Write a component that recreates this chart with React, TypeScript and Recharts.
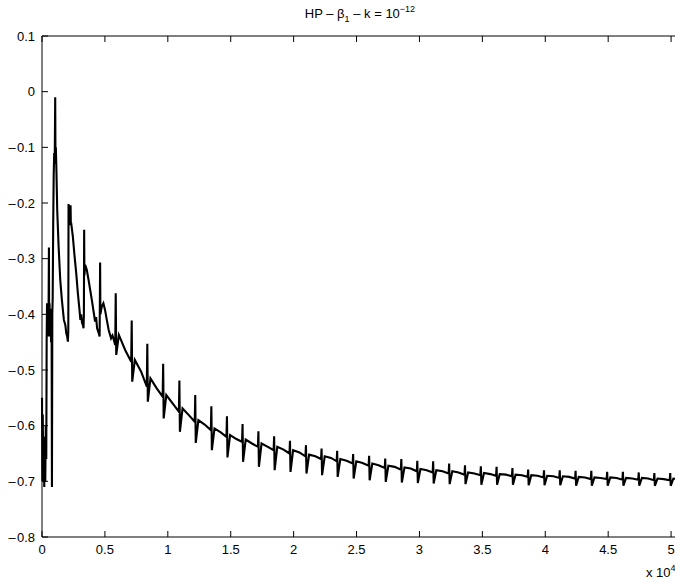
import React from 'react';
import { LineChart, Line, XAxis, YAxis } from 'recharts';

// first, irregular part of the trace (x in units of 10^4)
const earlyX = [
  0.0, 0.003, 0.006, 0.01, 0.014, 0.018, 0.022, 0.026, 0.03, 0.034, 0.037, 0.04, 0.043, 0.047,
  0.051, 0.055, 0.057, 0.06, 0.064, 0.068, 0.072, 0.076, 0.079, 0.082, 0.085, 0.089, 0.093,
  0.097, 0.101, 0.105, 0.107, 0.11, 0.114, 0.121, 0.132, 0.145, 0.158, 0.174, 0.186, 0.193,
  0.2, 0.206, 0.209, 0.211, 0.214, 0.219, 0.225, 0.227, 0.229, 0.232, 0.245, 0.259, 0.272,
  0.285, 0.298, 0.305, 0.311, 0.318, 0.325, 0.33, 0.333, 0.335, 0.337, 0.343, 0.356, 0.37,
  0.383, 0.396, 0.412, 0.422, 0.43, 0.438, 0.451, 0.458, 0.462, 0.464, 0.475, 0.488, 0.501,
  0.515, 0.53, 0.549, 0.56, 0.57, 0.578,
];
const earlyY = [
  -0.55, -0.7, -0.58, -0.7, -0.62, -0.71, -0.64, -0.7, -0.6, -0.66, -0.45, -0.38, -0.44, -0.4,
  -0.44, -0.28, -0.42, -0.38, -0.44, -0.4, -0.45, -0.39, -0.71, -0.4, -0.37, -0.24, -0.15,
  -0.11, -0.13, -0.01, -0.12, -0.1, -0.135, -0.213, -0.278, -0.338, -0.374, -0.41, -0.42, -0.434,
  -0.44, -0.449, -0.43, -0.202, -0.23, -0.225, -0.24, -0.204, -0.235, -0.236, -0.26, -0.296, -0.326,
  -0.362, -0.392, -0.41, -0.4, -0.415, -0.419, -0.425, -0.4, -0.248, -0.33, -0.311, -0.32, -0.338,
  -0.356, -0.374, -0.398, -0.413, -0.405, -0.425, -0.434, -0.44, -0.307, -0.4, -0.386, -0.38, -0.392,
  -0.41, -0.428, -0.443, -0.438, -0.445, -0.452,
];

// periodic spikes after that
const spikeX = [
  0.586, 0.713, 0.837, 0.963, 1.092, 1.218, 1.346, 1.47, 1.594, 1.72, 1.845, 1.971, 2.098, 2.222,
  2.346, 2.473, 2.6, 2.728, 2.856, 2.983, 3.109, 3.236, 3.362, 3.488, 3.613, 3.739, 3.864, 3.99,
  4.115, 4.241, 4.366, 4.492, 4.617, 4.743, 4.867, 4.993,
];
const preY = [
  -0.455, -0.485, -0.53, -0.548, -0.575, -0.593, -0.608, -0.62, -0.629, -0.638, -0.644, -0.65,
  -0.655, -0.66, -0.664, -0.668, -0.672, -0.676, -0.679, -0.682, -0.684, -0.686, -0.688, -0.689,
  -0.69, -0.691, -0.692, -0.693, -0.694, -0.695, -0.696, -0.696, -0.697, -0.697, -0.698, -0.698,
];
const topY = [
  -0.362, -0.411, -0.453, -0.489, -0.519, -0.545, -0.565, -0.583, -0.597, -0.61, -0.619, -0.627,
  -0.635, -0.641, -0.645, -0.651, -0.654, -0.659, -0.66, -0.663, -0.664, -0.668, -0.671, -0.673,
  -0.674, -0.676, -0.679, -0.68, -0.68, -0.681, -0.681, -0.683, -0.683, -0.684, -0.685, -0.685,
];
const dipY = [
  -0.473, -0.521, -0.557, -0.587, -0.611, -0.631, -0.644, -0.657, -0.665, -0.674, -0.68, -0.683,
  -0.686, -0.689, -0.692, -0.695, -0.698, -0.701, -0.702, -0.703, -0.704, -0.705, -0.705, -0.706,
  -0.706, -0.706, -0.707, -0.707, -0.707, -0.708, -0.708, -0.708, -0.708, -0.708, -0.708, -0.708,
];
const humpY = [
  -0.437, -0.482, -0.515, -0.545, -0.569, -0.59, -0.605, -0.617, -0.625, -0.632, -0.638, -0.644,
  -0.652, -0.655, -0.66, -0.664, -0.668, -0.672, -0.675, -0.678, -0.68, -0.682, -0.684, -0.685,
  -0.687, -0.688, -0.689, -0.69, -0.691, -0.692, -0.693, -0.693, -0.694, -0.694, -0.695, -0.695,
];
const lateY = [
  -0.464, -0.503, -0.533, -0.56, -0.581, -0.598, -0.612, -0.624, -0.632, -0.638, -0.643, -0.648,
  -0.655, -0.658, -0.663, -0.667, -0.671, -0.674, -0.677, -0.68, -0.682, -0.684, -0.686, -0.687,
  -0.688, -0.689, -0.69, -0.691, -0.692, -0.693, -0.694, -0.694, -0.695, -0.695, -0.696, -0.696,
];

const xTicks = [0, 0.5, 1, 1.5, 2, 2.5, 3, 3.5, 4, 4.5, 5];
const yTicks = [-0.8, -0.7, -0.6, -0.5, -0.4, -0.3, -0.2, -0.1, 0, 0.1];

const series: { x: number; y: number }[] = earlyX.map((x, i) => ({ x, y: earlyY[i] }));
spikeX.forEach((s, i) => {
  series.push({ x: s - 0.004, y: preY[i] });
  series.push({ x: s, y: topY[i] });
  series.push({ x: s + 0.004, y: dipY[i] });
  series.push({ x: s + 0.025, y: humpY[i] });
  series.push({ x: s + 0.075, y: lateY[i] });
});

const font = '"Liberation Sans", Arial, Helvetica, sans-serif';
const tickStyle = { fontSize: 13, fill: '#000', fontFamily: font };

const fmtY = (v: number) => (v === 0 ? '0' : v < 0 ? '\u2013\u200a' + Math.abs(v).toFixed(1) : v.toFixed(1));
const fmtX = (v: number) => (Number.isInteger(v) ? String(v) : v.toFixed(1));

export default function App() {
  return (
    <div style={{ position: 'absolute', left: 0, top: 0, width: 675, height: 583, overflow: 'hidden', background: '#fff' }}>
      <LineChart width={734} height={583} data={series} margin={{ top: 6, right: 0, bottom: 16, left: 0 }}>
        <XAxis
          dataKey="x"
          type="number"
          domain={[0, 5.5]}
          ticks={xTicks}
          tickFormatter={fmtX}
          height={30}
          tickSize={-6}
          tickMargin={14}
          stroke="#000"
          tick={tickStyle}
          interval={0}
        />
        <XAxis
          xAxisId="top"
          orientation="top"
          dataKey="x"
          type="number"
          domain={[0, 5.5]}
          ticks={xTicks}
          tickFormatter={() => ''}
          height={30}
          tickSize={-6}
          stroke="#000"
          interval={0}
        />
        <YAxis
          type="number"
          domain={[-0.8, 0.1]}
          ticks={yTicks}
          tickFormatter={fmtY}
          width={42}
          tickSize={-6}
          tickMargin={13}
          stroke="#000"
          tick={tickStyle}
          interval={0}
        />
        <Line
          dataKey="y"
          type="linear"
          stroke="#000"
          strokeWidth={2.1}
          dot={false}
          isAnimationActive={false}
        />
      </LineChart>
      <div
        style={{
          position: 'absolute',
          left: 260,
          top: 6,
          width: 200,
          textAlign: 'center',
          fontFamily: font,
          fontSize: 13,
          lineHeight: '16px',
          whiteSpace: 'nowrap',
        }}
      >
        HP – β<span style={{ position: 'relative', top: 4, fontSize: 9 }}>1</span> – k = 10
        <span style={{ position: 'relative', top: -6, fontSize: 9 }}>−12</span>
      </div>
      <div
        style={{
          position: 'absolute',
          left: 646,
          top: 565,
          fontFamily: font,
          fontSize: 13,
          lineHeight: '16px',
          whiteSpace: 'nowrap',
        }}
      >
        x 10<span style={{ position: 'relative', top: -6, fontSize: 9 }}>4</span>
      </div>
    </div>
  );
}
